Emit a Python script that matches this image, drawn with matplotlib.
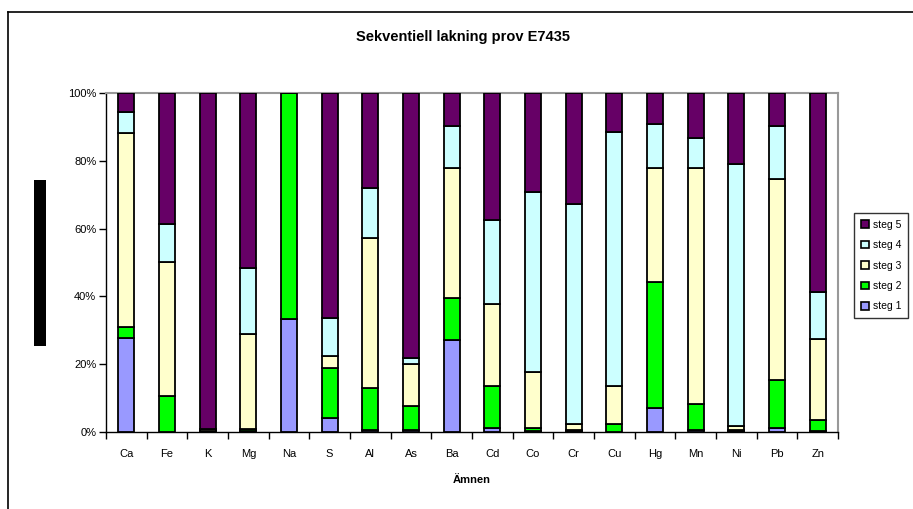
import matplotlib
matplotlib.use("Agg")
import matplotlib.pyplot as plt
from matplotlib.lines import Line2D
from matplotlib.patches import Rectangle, Patch
import numpy as np

plt.rcParams["font.family"] = ["Liberation Sans", "DejaVu Sans"]

# Elements analysed
categories = ["Ca", "Fe", "K", "Mg", "Na", "S", "Al", "As", "Ba", "Cd",
              "Co", "Cr", "Cu", "Hg", "Mn", "Ni", "Pb", "Zn"]

# Share (%) released in each leaching step
steg1 = [27.8, 0.0, 0.2, 0.3, 33.2, 4.1, 0.5, 0.5, 27.2, 1.2,
         0.2, 0.3, 0.1, 7.1, 0.5, 0.3, 1.2, 0.2]
steg2 = [3.3, 10.5, 0.1, 0.7, 66.8, 14.7, 12.6, 7.1, 12.3, 12.4,
         1.0, 0.4, 2.3, 37.2, 7.8, 0.3, 14.1, 3.2]
steg3 = [57.1, 39.7, 0.5, 27.9, 0.0, 3.6, 44.2, 12.4, 38.4, 24.1,
         16.4, 1.8, 11.2, 33.6, 69.6, 1.2, 59.2, 23.9]
steg4 = [6.3, 11.1, 0.2, 19.5, 0.0, 11.2, 14.6, 1.9, 12.5, 24.9,
         53.1, 64.8, 75.0, 13.1, 8.9, 77.3, 15.9, 14.0]
steg5 = [5.5, 38.7, 99.0, 51.6, 0.0, 66.4, 28.1, 78.1, 9.6, 37.4,
         29.3, 32.7, 11.4, 9.0, 13.2, 20.9, 9.6, 58.7]

legend_labels = ["steg 1", "steg 2", "steg 3", "steg 4", "steg 5"]
colors = ["#9999FF", "#00FF00", "#FFFFCC", "#CCFFFF", "#660066"]

title = "Sekventiell lakning prov E7435"
xlabel = "Ämnen"
ytick_vals = [0, 20, 40, 60, 80, 100]
ytick_labels = ["0%", "20%", "40%", "60%", "80%", "100%"]

W, H = 913, 509
fig = plt.figure(figsize=(W / 100, H / 100), dpi=100)
ax = fig.add_axes([106 / W, 1 - 432 / H, (838 - 106) / W, (432 - 93) / H])

data = np.array([steg1, steg2, steg3, steg4, steg5], dtype=float)
pct = data / data.sum(axis=0) * 100.0
x = np.arange(len(categories))
bottom = np.zeros(len(categories))
for vals, col in zip(pct, colors):
    ax.bar(x, vals, width=0.4, bottom=bottom, color=col,
           edgecolor="black", linewidth=1.3, zorder=3)
    bottom += vals

ax.set_xlim(-0.5, len(categories) - 0.5)
ax.set_ylim(0, 100)
ax.set_yticks(ytick_vals)
ax.set_yticklabels(ytick_labels, fontsize=8)
ax.tick_params(axis="y", direction="out", length=5, width=1, pad=2)

ax.set_xticks(x)
ax.set_xticklabels(categories, fontsize=8)
ax.set_xticks(np.arange(-0.5, len(categories)), minor=True)
ax.tick_params(axis="x", which="major", length=0, pad=12)
ax.tick_params(axis="x", which="minor", direction="out", length=5, width=1)
ax.set_xlabel(xlabel, fontsize=8, fontweight="bold", labelpad=12)

for side in ("left", "bottom"):
    ax.spines[side].set_color("black")
    ax.spines[side].set_linewidth(1.0)
for side in ("top", "right"):
    ax.spines[side].set_color("#999999")
    ax.spines[side].set_linewidth(1.5)

fig.text(463 / W, 1 - 37 / H, title, ha="center", va="center",
         fontsize=10.5, fontweight="bold")

# Legend
handles = [Patch(facecolor=c, edgecolor="black", linewidth=1.2)
           for c in colors]
leg = fig.legend(handles[::-1], legend_labels[::-1],
                 loc="upper left", bbox_to_anchor=(854 / W, 1 - 213 / H),
                 fontsize=7.5, frameon=True, fancybox=False,
                 handlelength=0.75, handleheight=0.75, handletextpad=0.4,
                 labelspacing=1.0, borderpad=0.65, borderaxespad=0)
leg.get_frame().set_edgecolor("black")
leg.get_frame().set_linewidth(1.0)

# Axis-title block on the left
fig.patches.append(Rectangle((34 / W, 1 - 346 / H), 12 / W, 166 / H,
                             transform=fig.transFigure, facecolor="black",
                             edgecolor="none"))

# Chart area frame
fig.add_artist(Line2D([8 / W, 1.0], [1 - 12 / H, 1 - 12 / H],
                      transform=fig.transFigure, color="black", linewidth=1.2))
fig.add_artist(Line2D([8 / W, 8 / W], [1 - 12 / H, 0.0],
                      transform=fig.transFigure, color="black", linewidth=1.2))

fig.savefig("out.png", dpi=100, facecolor="white")
